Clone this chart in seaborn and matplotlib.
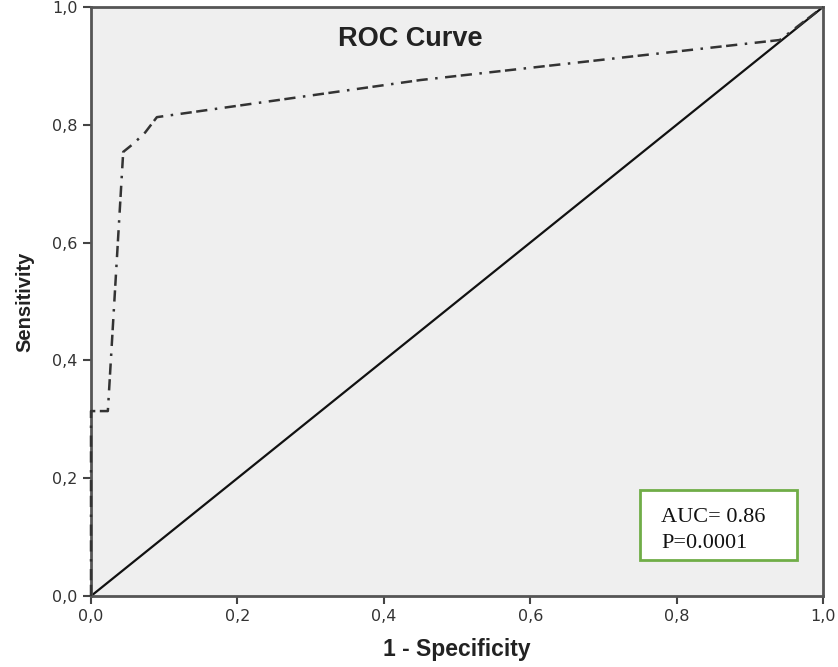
import matplotlib
matplotlib.use("Agg")
import matplotlib.pyplot as plt
import seaborn as sns
import pandas as pd
from matplotlib.ticker import FuncFormatter
from matplotlib.patches import Rectangle

fpr = [0.0, 0.0, 0.023, 0.044, 0.058, 0.074, 0.09, 0.45, 0.941, 1.0]
tpr = [0.0, 0.314, 0.314, 0.754, 0.768, 0.787, 0.813, 0.876, 0.944, 1.0]
ref = [0.0, 1.0]
ticks = [0.0, 0.2, 0.4, 0.6, 0.8, 1.0]
title = "ROC Curve"
note_lines = ["AUC= 0.86", "P=0.0001"]

sns.set_theme(style="white")
plt.rcParams["font.family"] = ["Liberation Sans", "DejaVu Sans"]
fig = plt.figure(figsize=(8.38, 6.67), dpi=100)
ax = fig.add_axes([0.1086, 0.1064, 0.9821 - 0.1086, 0.9895 - 0.1064])
ax.set_facecolor("#efefef")

sns.lineplot(x=ref, y=ref, ax=ax, color="#111111", lw=1.6)
df = pd.DataFrame({"fpr": fpr, "tpr": tpr})
sns.lineplot(data=df, x="fpr", y="tpr", sort=False, estimator=None, ax=ax,
             color="#333333", lw=1.8)
roc = ax.lines[-1]
roc.set_dashes([4.5, 1.8, 4.5, 3, 1, 3])
roc.set_clip_on(False)
roc.set_zorder(5)

ax.set_xlim(0, 1)
ax.set_ylim(0, 1)
ax.set_xticks(ticks)
ax.set_yticks(ticks)
fmt = FuncFormatter(lambda v, p: f"{v:.1f}".replace(".", ","))
ax.xaxis.set_major_formatter(fmt)
ax.yaxis.set_major_formatter(fmt)
ax.tick_params(axis="both", direction="out", length=6, width=1.5, color="#444444",
               labelsize=11.5, labelcolor="#333333", bottom=True, left=True)
for lab in ax.get_xticklabels() + ax.get_yticklabels():
    lab.set_family("DejaVu Sans")
for s in ax.spines.values():
    s.set_color("#555555")
    s.set_linewidth(2)

ax.set_xlabel("1 - Specificity", fontsize=16.5, fontweight="bold", color="#222222", labelpad=10)
ax.set_ylabel("Sensitivity", fontsize=14.5, fontweight="bold", color="#222222", labelpad=13)
ax.text(0.436, 0.945, title, transform=ax.transAxes, ha="center", va="center",
        fontsize=19.5, fontweight="bold", color="#222222")

ax.add_patch(Rectangle((0.75, 0.061), 0.2145, 0.119, transform=ax.transAxes,
                       facecolor="white", edgecolor="#70ad47", lw=2, zorder=6))
for yy, line in zip([0.134, 0.090], note_lines):
    ax.text(0.779, yy, line, transform=ax.transAxes, ha="left", va="center",
            fontsize=16, family="Liberation Serif", color="#111111", zorder=7)

fig.savefig("out.png", dpi=100)
